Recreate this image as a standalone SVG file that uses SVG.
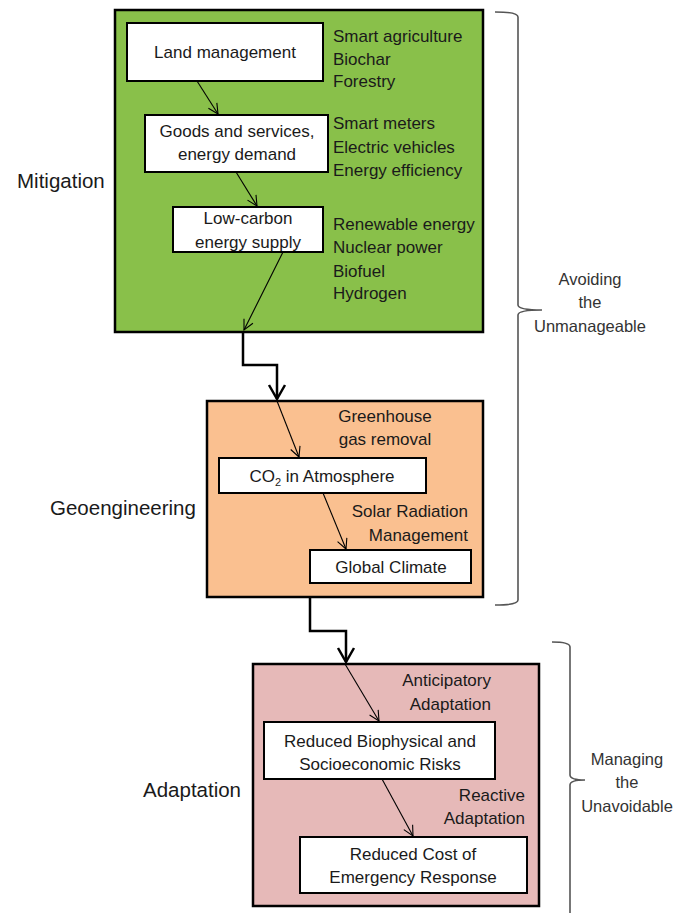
<svg xmlns="http://www.w3.org/2000/svg" width="688" height="913" viewBox="0 0 688 913">
<defs>
<style>
text{font-family:"Liberation Sans",Arial,sans-serif;fill:#1a1a1a}
.t{font-size:17px}
.big{font-size:20.5px}
.side{font-size:16.5px;fill:#333}
.c{text-anchor:middle}
.e{text-anchor:end}
.box{fill:#fff;stroke:#000;stroke-width:2}
.grp{stroke:#000;stroke-width:2.5}
.thin{fill:none;stroke:#000;stroke-width:1.1;marker-end:url(#a)}
.thick{fill:none;stroke:#000;stroke-width:2.5;marker-end:url(#A)}
.brace{fill:none;stroke:#555;stroke-width:1.6}
</style>
<marker id="a" markerUnits="userSpaceOnUse" markerWidth="14" markerHeight="14" viewBox="0 0 14 14" refX="12" refY="7" orient="auto">
<path d="M2,2 L12,7 L2,12" fill="none" stroke="#000" stroke-width="1.1"/>
</marker>
<marker id="A" markerUnits="userSpaceOnUse" markerWidth="20" markerHeight="20" viewBox="0 0 20 20" refX="17" refY="10" orient="auto">
<path d="M3,2 L17,10 L3,18" fill="none" stroke="#000" stroke-width="2.5"/>
</marker>
</defs>
<rect width="688" height="913" fill="#fff"/>

<g id="mitigation">
<rect class="grp" x="115" y="10" width="368" height="322" fill="#89c04a"/>
<text class="big" x="17" y="188">Mitigation</text>
<text class="t" x="333" y="42">Smart agriculture</text>
<text class="t" x="333" y="65">Biochar</text>
<text class="t" x="333" y="87">Forestry</text>
<text class="t" x="333" y="129">Smart meters</text>
<text class="t" x="333" y="153">Electric vehicles</text>
<text class="t" x="333" y="176">Energy efficiency</text>
<text class="t" x="333" y="230">Renewable energy</text>
<text class="t" x="333" y="253">Nuclear power</text>
<text class="t" x="333" y="277">Biofuel</text>
<text class="t" x="333" y="299">Hydrogen</text>
</g>
<g id="land">
<rect class="box" x="127" y="23" width="196" height="58"/>
<text class="t c" x="225" y="58">Land management</text>
</g>
<g id="goods">
<rect class="box" x="145" y="115" width="183" height="57"/>
<text class="t c" x="237" y="137">Goods and services,</text>
<text class="t c" x="237" y="160">energy demand</text>
</g>
<g id="lowcarbon">
<rect class="box" x="173" y="207" width="150" height="45"/>
<text class="t c" x="248" y="224">Low-carbon</text>
<text class="t c" x="248" y="248">energy supply</text>
</g>

<g id="geoengineering">
<rect class="grp" x="207" y="401" width="276" height="196" fill="#fac090"/>
<text class="big" x="50" y="515">Geoengineering</text>
<text class="t c" x="385" y="422">Greenhouse</text>
<text class="t c" x="385" y="445">gas removal</text>
<text class="t e" x="468" y="517">Solar Radiation</text>
<text class="t e" x="468" y="541">Management</text>
</g>
<g id="co2">
<rect class="box" x="219" y="458" width="207" height="35"/>
<text class="t c" x="322" y="482">CO<tspan font-size="11" dy="4">2</tspan><tspan dy="-4"> in Atmosphere</tspan></text>
</g>
<g id="climate">
<rect class="box" x="310" y="550" width="161" height="33"/>
<text class="t c" x="391" y="573">Global Climate</text>
</g>

<g id="adaptation">
<rect class="grp" x="253" y="664" width="286" height="242" fill="#e6b9b8"/>
<text class="big" x="143" y="797">Adaptation</text>
<text class="t e" x="491" y="686">Anticipatory</text>
<text class="t e" x="491" y="710">Adaptation</text>
<text class="t e" x="525" y="801">Reactive</text>
<text class="t e" x="525" y="824">Adaptation</text>
</g>
<g id="risks">
<rect class="box" x="264" y="722" width="231" height="57"/>
<text class="t c" x="380" y="747">Reduced Biophysical and</text>
<text class="t c" x="380" y="770">Socioeconomic Risks</text>
</g>
<g id="cost">
<rect class="box" x="300" y="837" width="227" height="56"/>
<text class="t c" x="413" y="860">Reduced Cost of</text>
<text class="t c" x="413" y="883">Emergency Response</text>
</g>

<g id="connectors">
<path class="thin" d="M197,81 L218,114"/>
<path class="thin" d="M236,172 L257,206"/>
<path class="thin" d="M283,252 L244,330"/>
<path class="thick" d="M243,332 V365 H277 V399"/>
<path class="thin" d="M277,401 L299,457"/>
<path class="thin" d="M323,493 L346,549"/>
<path class="thick" d="M310,597 V631 H346 V662"/>
<path class="thin" d="M345,664 L379,721"/>
<path class="thin" d="M382,779 L413,836"/>
</g>

<g id="brace-avoiding">
<path class="brace" d="M495,12 Q518,12 518,17 V305 Q518,310 542,310 Q518,310 518,315 V600 Q518,605 495,605"/>
<text class="side c" x="590" y="285">Avoiding</text>
<text class="side c" x="590" y="308">the</text>
<text class="side c" x="590" y="332">Unmanageable</text>
</g>
<g id="brace-managing">
<path class="brace" d="M552,642 Q570,642 570,647 V775 Q570,780 585,780 Q570,780 570,785 V913"/>
<text class="side c" x="627" y="765">Managing</text>
<text class="side c" x="627" y="788">the</text>
<text class="side c" x="627" y="812">Unavoidable</text>
</g>
</svg>
